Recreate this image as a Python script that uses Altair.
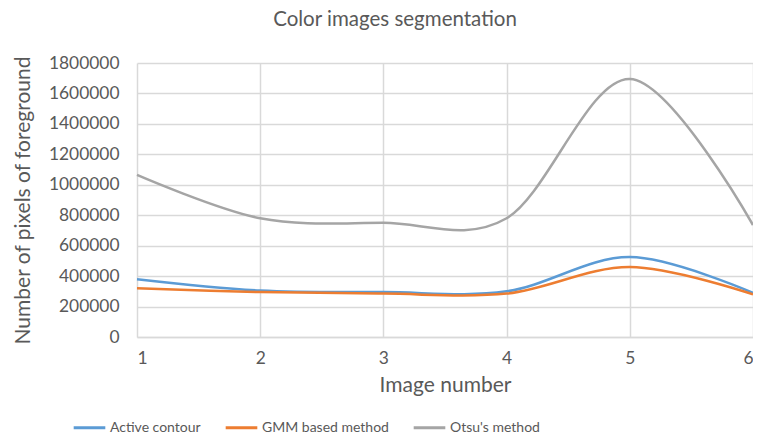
import altair as alt
import pandas as pd

images = [1, 2, 3, 4, 5, 6]
active_contour = [380000, 305000, 295000, 300000, 525000, 290000]
gmm_method = [320000, 295000, 285000, 285000, 460000, 280000]
otsu_method = [1065000, 780000, 750000, 780000, 1695000, 735000]

series = ["Active contour", "GMM based method", "Otsu's method"]
colors = ["#5B9BD5", "#ED7D31", "#A5A5A5"]

rows = []
for name, vals in zip(series, [active_contour, gmm_method, otsu_method]):
    for x, v in zip(images, vals):
        rows.append({"Image": x, "Pixels": v, "Method": name})
df = pd.DataFrame(rows)

FONT = "Lato"

chart = alt.Chart(df).mark_line(interpolate="cardinal", strokeWidth=2.5).encode(
    x=alt.X("Image:Q", title="Image number",
            scale=alt.Scale(domain=[1, 6], nice=False, zero=False),
            axis=alt.Axis(values=images, format="d", tickCount=6)),
    y=alt.Y("Pixels:Q", title="Number of pixels of foreground",
            scale=alt.Scale(domain=[0, 1800000], nice=False),
            axis=alt.Axis(values=list(range(0, 1800001, 200000)), format="d")),
    color=alt.Color("Method:N", title=None,
                    scale=alt.Scale(domain=series, range=colors),
                    legend=alt.Legend(orient="none", direction="horizontal",
                                      legendX=-65, legendY=347,
                                      symbolType="stroke", symbolSize=1000,
                                      symbolStrokeWidth=3, columnPadding=18,
                                      labelFont=FONT, labelFontSize=14,
                                      labelColor="#595959", labelOffset=3)),
).properties(
    width=616, height=274,
    title=alt.TitleParams("Color images segmentation", font=FONT, fontSize=20.5,
                          fontWeight="normal", color="#595959", anchor="middle",
                          dx=-50, offset=24),
    autosize=alt.AutoSizeParams(type="none"),
    padding={"left": 129, "top": 55, "right": 0, "bottom": 100},
).configure_view(stroke=None).configure_axis(
    gridColor="#D9D9D9", gridWidth=1.5, domainColor="#D9D9D9", domainWidth=1.5,
    ticks=False, labelFont=FONT, labelFontSize=17.4, labelColor="#595959",
    titleFont=FONT, titleFontSize=21, titleFontWeight="normal", titleColor="#595959",
).configure_axisY(domain=False, titlePadding=15, labelPadding=18
).configure_axisX(titlePadding=8, labelPadding=12)

chart.save("out.html", embed_options={"renderer": "svg", "actions": False})
